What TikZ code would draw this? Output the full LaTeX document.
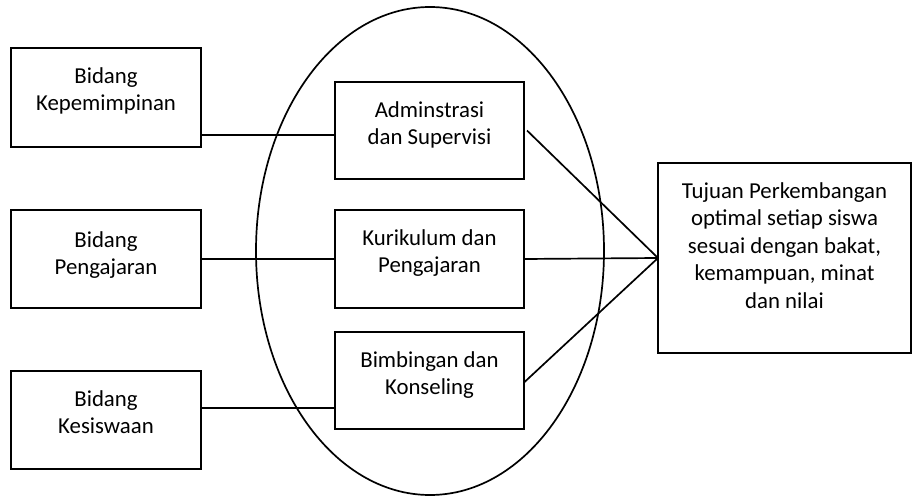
\documentclass[tikz,border=0pt]{standalone}
\usepackage{fontspec}
\setmainfont{Carlito}
\begin{document}
\begin{tikzpicture}[x=1pt,y=-1pt,
  box/.style={draw, line width=1.8pt, inner sep=0pt, outer sep=0pt},
  txt/.style={anchor=north, align=center, inner sep=0pt,
    font=\fontsize{22.8}{27.6}\selectfont},
  link/.style={line width=1.7pt}]
\useasboundingbox (0,0) rectangle (913,497);

% surrounding ellipse
\draw[line width=1.7pt] (430,251) ellipse [x radius=174, y radius=244];

% left column
\node[box, minimum width=190pt, minimum height=99pt] (L1) at (106,97.5) {};
\node[box, minimum width=190pt, minimum height=98pt] (L2) at (106,259) {};
\node[box, minimum width=190pt, minimum height=98pt] (L3) at (106,420) {};

% middle column
\node[box, minimum width=189pt, minimum height=97pt] (A) at (429.5,130.5) {};
\node[box, minimum width=189pt, minimum height=98pt] (K) at (429.5,259) {};
\node[box, minimum width=189pt, minimum height=97pt] (B) at (429.5,380.5) {};

% goal box
\node[box, minimum width=253pt, minimum height=190pt] (T) at (784.5,258) {};

% labels
\node[txt] at ([yshift=-19pt]L1.north) {Bidang\\Kepemimpinan};
\node[txt] at ([yshift=-21pt]L2.north) {Bidang\\Pengajaran};
\node[txt] at ([yshift=-19pt]L3.north) {Bidang\\Kesiswaan};
\node[txt] at ([yshift=-19pt]A.north) {Adminstrasi\\dan Supervisi};
\node[txt] at ([yshift=-19pt]K.north) {Kurikulum dan\\Pengajaran};
\node[txt] at ([yshift=-19pt]B.north) {Bimbingan dan\\Konseling};
\node[txt] at ([yshift=-19pt]T.north) {Tujuan Perkembangan\\optimal setiap siswa\\sesuai dengan bakat,\\kemampuan, minat\\dan nilai};

% connectors
\coordinate (r1) at (0,135);
\coordinate (r3) at (0,408);
\draw[link] (L1.east |- r1) -- (A.west |- r1);
\draw[link] (L2.east) -- (K.west);
\draw[link] (L3.east |- r3) -- (B.west |- r3);
\draw[link] ([xshift=3pt]A.east) -- (T.west);
\draw[link] (K.east) -- (T.west);
\draw[link] ([yshift=-2pt]B.east) -- (T.west);
\end{tikzpicture}
\end{document}
